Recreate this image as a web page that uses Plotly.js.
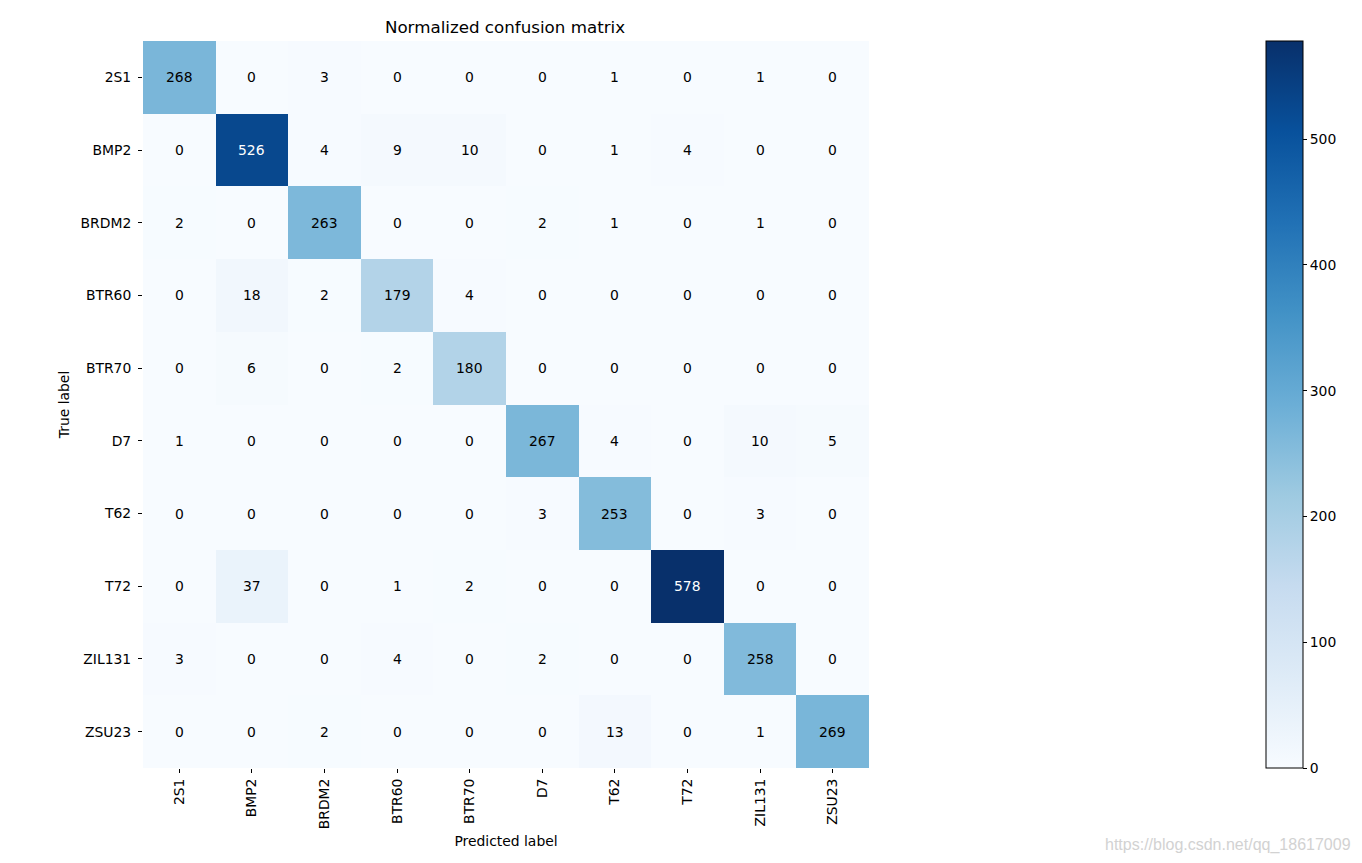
<!DOCTYPE html>
<html>
<head>
<meta charset="utf-8">
<script src="https://cdn.plot.ly/plotly-3.0.1.min.js"></script>
<style>
  html, body { margin: 0; padding: 0; background: #fff; }
  #chart { width: 1362px; height: 863px; }
</style>
</head>
<body>
<div id="chart"></div>
<script>
// Class names (predicted = columns, true = rows)
const classes = ['2S1', 'BMP2', 'BRDM2', 'BTR60', 'BTR70', 'D7', 'T62', 'T72', 'ZIL131', 'ZSU23'];

// Confusion counts, one row per true label
const row2S1    = [268, 0, 3, 0, 0, 0, 1, 0, 1, 0];
const rowBMP2   = [0, 526, 4, 9, 10, 0, 1, 4, 0, 0];
const rowBRDM2  = [2, 0, 263, 0, 0, 2, 1, 0, 1, 0];
const rowBTR60  = [0, 18, 2, 179, 4, 0, 0, 0, 0, 0];
const rowBTR70  = [0, 6, 0, 2, 180, 0, 0, 0, 0, 0];
const rowD7     = [1, 0, 0, 0, 0, 267, 4, 0, 10, 5];
const rowT62    = [0, 0, 0, 0, 0, 3, 253, 0, 3, 0];
const rowT72    = [0, 37, 0, 1, 2, 0, 0, 578, 0, 0];
const rowZIL131 = [3, 0, 0, 4, 0, 2, 0, 0, 258, 0];
const rowZSU23  = [0, 0, 2, 0, 0, 0, 13, 0, 1, 269];

const matrix = [row2S1, rowBMP2, rowBRDM2, rowBTR60, rowBTR70, rowD7, rowT62, rowT72, rowZIL131, rowZSU23];

const colorbarTicks = [0, 100, 200, 300, 400, 500];

// Matplotlib "Blues"
const blues = [
  [0.0, '#f7fbff'], [0.125, '#deebf7'], [0.25, '#c6dbef'], [0.375, '#9ecae1'],
  [0.5, '#6baed6'], [0.625, '#4292c6'], [0.75, '#2171b5'], [0.875, '#08519c'], [1.0, '#08306b']
];

const zmax = Math.max(...matrix.flat());
const thresh = zmax / 2;
const FONT = 'DejaVu Sans, sans-serif';
const FS = 13.9;

const annotations = [];
matrix.forEach((row, i) => {
  row.forEach((v, j) => {
    annotations.push({
      x: classes[j], y: classes[i], xref: 'x', yref: 'y',
      text: String(v), showarrow: false,
      font: { family: FONT, size: FS, color: v > thresh ? '#ffffff' : '#000000' }
    });
  });
});

annotations.push({
  xref: 'paper', yref: 'paper', x: (1353 - 143) / 726, y: -(845 - 768) / 727,
  xanchor: 'right', yanchor: 'middle', showarrow: false,
  text: 'https://blog.csdn.net/qq_18617009',
  font: { family: 'Liberation Sans, Arial, sans-serif', size: 16, color: '#d2d2d2' }
});

const trace = {
  type: 'heatmap',
  x: classes,
  y: classes,
  z: matrix,
  zmin: 0,
  zmax: zmax,
  colorscale: blues,
  hoverinfo: 'x+y+z',
  colorbar: {
    x: (1266 - 143) / 726, xanchor: 'left', xref: 'paper',
    y: 1, yanchor: 'top', len: 1, lenmode: 'fraction',
    thickness: 37, thicknessmode: 'pixels',
    outlinewidth: 1, outlinecolor: '#000',
    tickvals: colorbarTicks, ticks: 'outside', ticklen: 4, tickwidth: 1, tickcolor: '#000',
    tickfont: { family: FONT, size: FS, color: '#000' },
    xpad: 0, ypad: 0
  }
};

const layout = {
  width: 1362, height: 863,
  margin: { l: 143, r: 493, t: 41, b: 95 },
  paper_bgcolor: '#ffffff', plot_bgcolor: '#ffffff',
  title: {
    text: 'Normalized confusion matrix',
    x: 505 / 1362, xanchor: 'center', y: 1 - 27 / 863, yanchor: 'middle',
    font: { family: FONT, size: 16.7, color: '#000' }
  },
  xaxis: {
    type: 'category', tickangle: -90,
    ticks: 'outside', ticklen: 4, tickwidth: 1, tickcolor: '#000',
    tickfont: { family: FONT, size: FS, color: '#000' },
    showgrid: false, zeroline: false, showline: false,
    title: { text: 'Predicted label', standoff: 8, font: { family: FONT, size: FS, color: '#000' } },
    fixedrange: true
  },
  yaxis: {
    type: 'category', autorange: 'reversed',
    ticks: 'outside', ticklen: 4, tickwidth: 1, tickcolor: '#000',
    ticklabelstandoff: 4,
    tickfont: { family: FONT, size: FS, color: '#000' },
    showgrid: false, zeroline: false, showline: false,
    title: { text: 'True label', standoff: 7, font: { family: FONT, size: FS, color: '#000' } },
    fixedrange: true
  },
  annotations: annotations,
  showlegend: false
};

Plotly.newPlot('chart', [trace], layout, { displayModeBar: false });
</script>
</body>
</html>
